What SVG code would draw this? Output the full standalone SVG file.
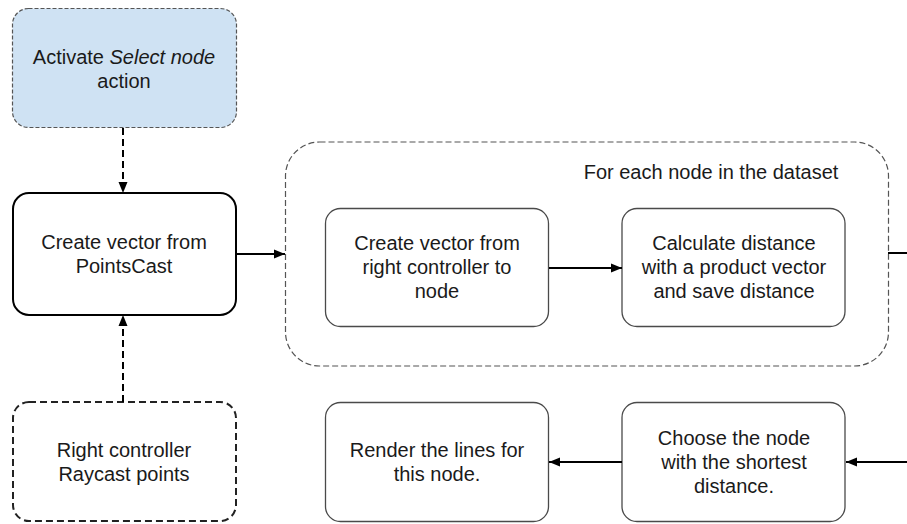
<svg xmlns="http://www.w3.org/2000/svg" width="907" height="524" viewBox="0 0 907 524">
<defs>
<marker id="arr" markerUnits="userSpaceOnUse" markerWidth="12" markerHeight="10" refX="11" refY="5" orient="auto">
<path d="M0,0.5 L11,5 L0,9.5 z" fill="#000"/>
</marker>
<style>
text{font-family:"Liberation Sans",Arial,sans-serif;font-size:20px;fill:#1a1a1a;text-anchor:middle}
.inner{fill:#fff;stroke:#4a4a4a;stroke-width:1.3}
.conn{stroke:#000;stroke-width:2;fill:none}
.dash{stroke-dasharray:7,4}
</style>
</defs>
<rect width="907" height="524" fill="#fff"/>
<g id="container">
<rect x="285.5" y="142" width="603" height="224" rx="34" fill="none" stroke="#555" stroke-width="1.2" stroke-dasharray="6,3"/>
<text x="711" y="179">For each node in the dataset</text>
</g>
<g id="activate">
<rect x="12.5" y="8.5" width="224" height="119" rx="16" fill="#cfe2f3" stroke="#555" stroke-width="1.2" stroke-dasharray="4,2"/>
<text x="124" y="64">Activate <tspan font-style="italic">Select node</tspan></text>
<text x="124" y="88">action</text>
</g>
<g id="pointscast">
<rect x="13" y="193" width="223" height="122" rx="16" fill="#fff" stroke="#000" stroke-width="2"/>
<text x="124" y="249">Create vector from</text>
<text x="124" y="273">PointsCast</text>
</g>
<g id="raycast">
<rect x="13" y="402" width="223" height="119" rx="16" fill="#fff" stroke="#222" stroke-width="2" stroke-dasharray="7,4"/>
<text x="124" y="457">Right controller</text>
<text x="124" y="481">Raycast points</text>
</g>
<g id="vector-node">
<rect x="325.5" y="208.5" width="223" height="118" rx="15" class="inner"/>
<text x="437" y="250">Create vector from</text>
<text x="437" y="274">right controller to</text>
<text x="437" y="298">node</text>
</g>
<g id="calc">
<rect x="622" y="208.5" width="223" height="118" rx="15" class="inner"/>
<text x="734" y="250">Calculate distance</text>
<text x="734" y="274">with a product vector</text>
<text x="734" y="298">and save distance</text>
</g>
<g id="render">
<rect x="325.5" y="402.5" width="223" height="119" rx="15" class="inner"/>
<text x="437" y="457">Render the lines for</text>
<text x="437" y="481">this node.</text>
</g>
<g id="choose">
<rect x="622" y="402.5" width="223" height="119" rx="15" class="inner"/>
<text x="734" y="445">Choose the node</text>
<text x="734" y="469">with the shortest</text>
<text x="734" y="493">distance.</text>
</g>
<g id="connectors">
<line x1="123" y1="128" x2="123" y2="193" class="conn dash" marker-end="url(#arr)"/>
<line x1="123" y1="402" x2="123" y2="315" class="conn dash" marker-end="url(#arr)"/>
<line x1="236" y1="254" x2="285" y2="254" class="conn" marker-end="url(#arr)"/>
<line x1="549" y1="268" x2="622" y2="268" class="conn" marker-end="url(#arr)"/>
<line x1="888" y1="253" x2="907" y2="253" class="conn"/>
<line x1="907" y1="462" x2="846" y2="462" class="conn" marker-end="url(#arr)"/>
<line x1="622" y1="462" x2="549" y2="462" class="conn" marker-end="url(#arr)"/>
</g>
</svg>
